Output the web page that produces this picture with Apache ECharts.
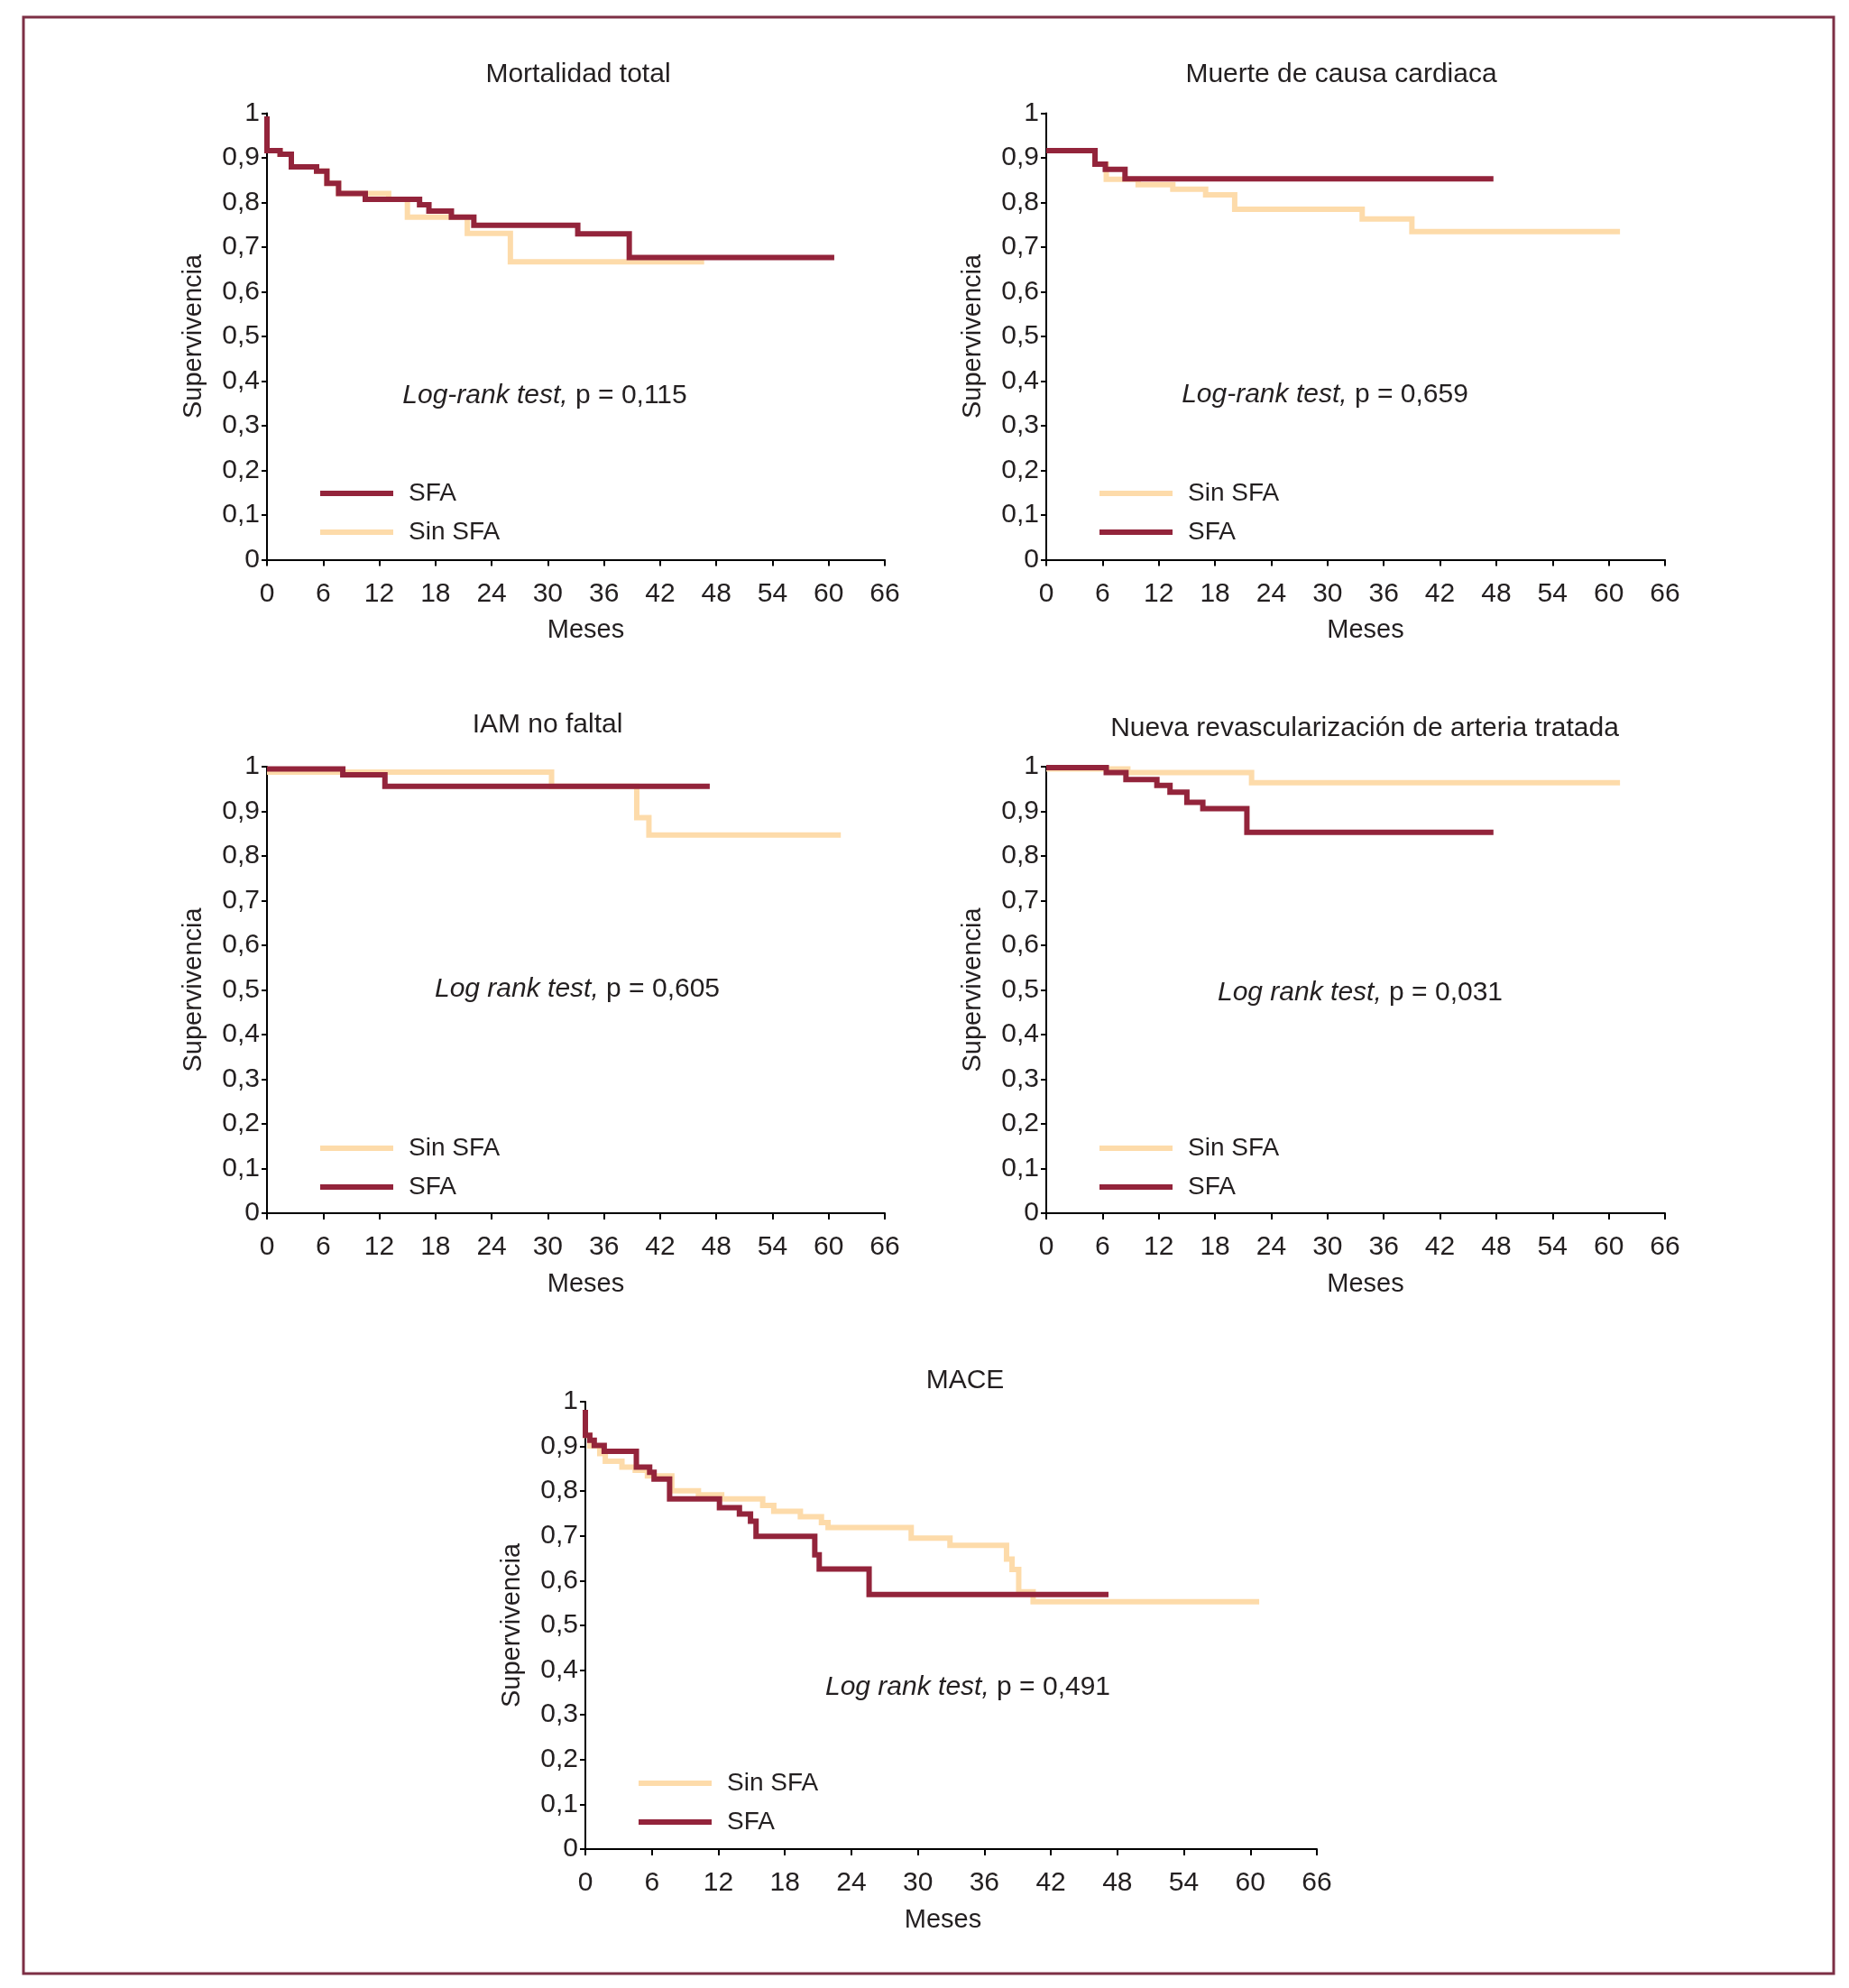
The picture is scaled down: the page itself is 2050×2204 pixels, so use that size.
<!DOCTYPE html>
<html>
<head>
<meta charset="utf-8">
<script src="https://cdn.jsdelivr.net/npm/echarts@6/dist/echarts.min.js"></script>
<style>
html,body{margin:0;padding:0;background:#fff;}
#chart{width:2050px;height:2204px;}
</style>
</head>
<body>
<div id="chart"></div>
<script>
// ---------- DATA (time in months of each drop, survival after the drop) ----------
const xTicks = [0, 6, 12, 18, 24, 30, 36, 42, 48, 54, 60, 66];
const yTicks = [0, 0.1, 0.2, 0.3, 0.4, 0.5, 0.6, 0.7, 0.8, 0.9, 1];

const panelTitles = ['Mortalidad total', 'Muerte de causa cardiaca', 'IAM no faltal',
  'Nueva revascularización de arteria tratada', 'MACE'];
const testItalic = ['Log-rank test,', 'Log-rank test,', 'Log rank test,', 'Log rank test,', 'Log rank test,'];
const testP = ['p = 0,115', 'p = 0,659', 'p = 0,605', 'p = 0,031', 'p = 0,491'];
const legendOrder = [['SFA', 'Sin SFA'], ['Sin SFA', 'SFA'], ['Sin SFA', 'SFA'], ['Sin SFA', 'SFA'], ['Sin SFA', 'SFA']];

// Panel 1: Mortalidad total
const mortSFA_t = [0, 0, 1.4, 2.6, 5.3, 6.4, 7.65, 10.5, 16.3, 17.3, 19.7, 22.1, 33.2, 38.7, 60.6];
const mortSFA_s = [0.993, 0.916, 0.908, 0.880, 0.870, 0.843, 0.820, 0.807, 0.795, 0.781, 0.767, 0.749, 0.730, 0.677, 0.677];
const mortSin_t = [0, 0, 1.4, 2.6, 5.3, 6.4, 7.65, 13.0, 15.0, 21.4, 26.0, 46.7];
const mortSin_s = [0.993, 0.916, 0.908, 0.880, 0.870, 0.843, 0.820, 0.807, 0.767, 0.731, 0.667, 0.667];

// Panel 2: Muerte de causa cardiaca
const cardSFA_t = [0, 5.2, 6.3, 8.4, 47.7];
const cardSFA_s = [0.916, 0.886, 0.874, 0.853, 0.853];
const cardSin_t = [0, 5.2, 6.4, 9.8, 13.5, 17.0, 20.1, 33.7, 39.0, 61.2];
const cardSin_s = [0.916, 0.886, 0.852, 0.840, 0.830, 0.817, 0.785, 0.763, 0.735, 0.735];

// Panel 3: IAM no faltal
const iamSFA_t = [0, 8.1, 12.6, 47.3];
const iamSFA_s = [0.995, 0.982, 0.956, 0.956];
const iamSin_t = [0, 30.4, 39.5, 40.8, 61.3];
const iamSin_s = [0.988, 0.956, 0.886, 0.847, 0.847];

// Panel 4: Nueva revascularización de arteria tratada
const revSFA_t = [0, 6.4, 8.5, 11.8, 13.2, 15.0, 16.7, 21.4, 47.7];
const revSFA_s = [0.998, 0.987, 0.971, 0.958, 0.943, 0.920, 0.906, 0.853, 0.853];
const revSin_t = [0, 8.7, 21.9, 61.2];
const revSin_s = [0.995, 0.987, 0.964, 0.964];

// Panel 5: MACE
const maceSFA_t = [0, 0, 0.4, 0.8, 1.7, 4.6, 5.8, 6.2, 7.6, 12.1, 13.9, 14.9, 15.4, 20.7, 21.1, 25.6, 47.2];
const maceSFA_s = [0.982, 0.925, 0.914, 0.902, 0.889, 0.854, 0.842, 0.827, 0.783, 0.763, 0.749, 0.733, 0.699, 0.658, 0.626, 0.569, 0.569];
const maceSin_t = [0, 0, 0.4, 1.3, 1.8, 3.3, 4.5, 5.6, 7.8, 10.2, 12.3, 16.0, 17.0, 19.4, 21.3, 21.9, 29.4, 32.9, 38.0, 38.5, 39.1, 40.4, 60.8];
const maceSin_s = [0.982, 0.925, 0.901, 0.884, 0.867, 0.854, 0.847, 0.834, 0.801, 0.792, 0.783, 0.768, 0.755, 0.743, 0.730, 0.719, 0.695, 0.679, 0.648, 0.625, 0.575, 0.553, 0.553];

const seriesSFA = [[mortSFA_t, mortSFA_s], [cardSFA_t, cardSFA_s], [iamSFA_t, iamSFA_s], [revSFA_t, revSFA_s], [maceSFA_t, maceSFA_s]];
const seriesSin = [[mortSin_t, mortSin_s], [cardSin_t, cardSin_s], [iamSin_t, iamSin_s], [revSin_t, revSin_s], [maceSin_t, maceSin_s]];

// ---------- LAYOUT / STYLE ----------
const FONT = '"Liberation Sans", Arial, Helvetica, sans-serif';
const TXT = '#231f20';
const C_SFA = '#93243b';
const C_SIN = '#fddbaa';

const grids = [
  {left: 296, top: 125.5, width: 685, height: 495},
  {left: 1160, top: 125.5, width: 686, height: 495},
  {left: 296, top: 850, width: 685, height: 495},
  {left: 1160, top: 850, width: 686, height: 495},
  {left: 649, top: 1554, width: 811, height: 496}
];
const titlePos = [[641, 68], [1487, 68], [607, 789], [1513, 792.5], [1070, 1515.5]];
const testPos = [[604, 423.5], [1469, 423], [640, 1081.5], [1508, 1085.5], [1073, 1855.5]];
const legendPos = [[355, 533], [1219, 533], [355, 1259], [1219, 1259], [708, 1963]];
const mesesPad = [[0, 0, 0, 22], [0, 0, 0, 22], [0, 0, 0, 22], [0, 0, 0, 22], [0, 18, 0, 0]];

const zip = (t, s) => t.map((v, i) => [v, s[i]]);
const fmtY = v => (v === 0 ? '0' : v === 1 ? '1' : v.toFixed(1).replace('.', ','));

const option = {
  animation: false,
  backgroundColor: '#fff',
  textStyle: {fontFamily: FONT, color: TXT},
  grid: grids.map(g => Object.assign({containLabel: false}, g)),
  title: [],
  legend: [],
  xAxis: [],
  yAxis: [],
  series: [],
  graphic: [{
    type: 'rect', silent: true,
    shape: {x: 26, y: 19, width: 2007, height: 2169},
    style: {fill: 'none', stroke: '#7d2f45', lineWidth: 3}
  }]
};

for (let i = 0; i < 5; i++) {
  option.title.push({
    text: panelTitles[i], left: titlePos[i][0], top: titlePos[i][1], textAlign: 'center', padding: 0,
    textStyle: {fontFamily: FONT, fontSize: 30, fontWeight: 'normal', color: TXT}
  });
  option.title.push({
    text: '{i|' + testItalic[i] + '} ' + testP[i], left: testPos[i][0], top: testPos[i][1], textAlign: 'center', padding: 0,
    textStyle: {fontFamily: FONT, fontSize: 30, fontWeight: 'normal', color: TXT,
      rich: {i: {fontFamily: FONT, fontSize: 30, fontStyle: 'italic', color: TXT}}}
  });
  option.xAxis.push({
    type: 'value', gridIndex: i, min: 0, max: 66, interval: 6,
    name: 'Meses', nameLocation: 'middle', nameGap: 64,
    nameTextStyle: {fontFamily: FONT, fontSize: 29, color: TXT, padding: mesesPad[i]},
    axisLine: {show: true, onZero: false, lineStyle: {color: '#000', width: 2}},
    axisTick: {show: true, inside: false, length: 7, lineStyle: {color: '#000', width: 2}},
    axisLabel: {fontFamily: FONT, fontSize: 30, color: TXT, margin: 23, showMinLabel: true, showMaxLabel: true},
    splitLine: {show: false}
  });
  option.yAxis.push({
    type: 'value', gridIndex: i, min: 0, max: 1, interval: 0.1,
    name: 'Supervivencia', nameLocation: 'middle', nameGap: 67, nameRotate: 90,
    nameTextStyle: {fontFamily: FONT, fontSize: 29, color: TXT},
    axisLine: {show: true, onZero: false, lineStyle: {color: '#000', width: 2}},
    axisTick: {show: true, inside: false, length: 6, lineStyle: {color: '#000', width: 2}},
    axisLabel: {fontFamily: FONT, fontSize: 30, color: TXT, margin: 8, formatter: fmtY},
    splitLine: {show: false}
  });
  option.series.push({
    name: 'Sin SFA', type: 'line', step: 'end', xAxisIndex: i, yAxisIndex: i,
    data: zip(seriesSin[i][0], seriesSin[i][1]), symbol: 'none', silent: true,
    lineStyle: {color: C_SIN, width: 6, cap: 'butt', join: 'miter'}, itemStyle: {color: C_SIN}, z: 2
  });
  option.series.push({
    name: 'SFA', type: 'line', step: 'end', xAxisIndex: i, yAxisIndex: i,
    data: zip(seriesSFA[i][0], seriesSFA[i][1]), symbol: 'none', silent: true,
    lineStyle: {color: C_SFA, width: 6, cap: 'butt', join: 'miter'}, itemStyle: {color: C_SFA}, z: 3
  });
  option.legend.push({
    data: legendOrder[i], orient: 'vertical', left: legendPos[i][0], top: legendPos[i][1],
    icon: 'rect', itemWidth: 81, itemHeight: 6, itemGap: 15, padding: 0, selectedMode: false,
    textStyle: {fontFamily: FONT, fontSize: 28, color: TXT, padding: [0, 0, 0, 12]}
  });
}

const chart = echarts.init(document.getElementById('chart'), null, {renderer: 'canvas'});
chart.setOption(option);
</script>
</body>
</html>
